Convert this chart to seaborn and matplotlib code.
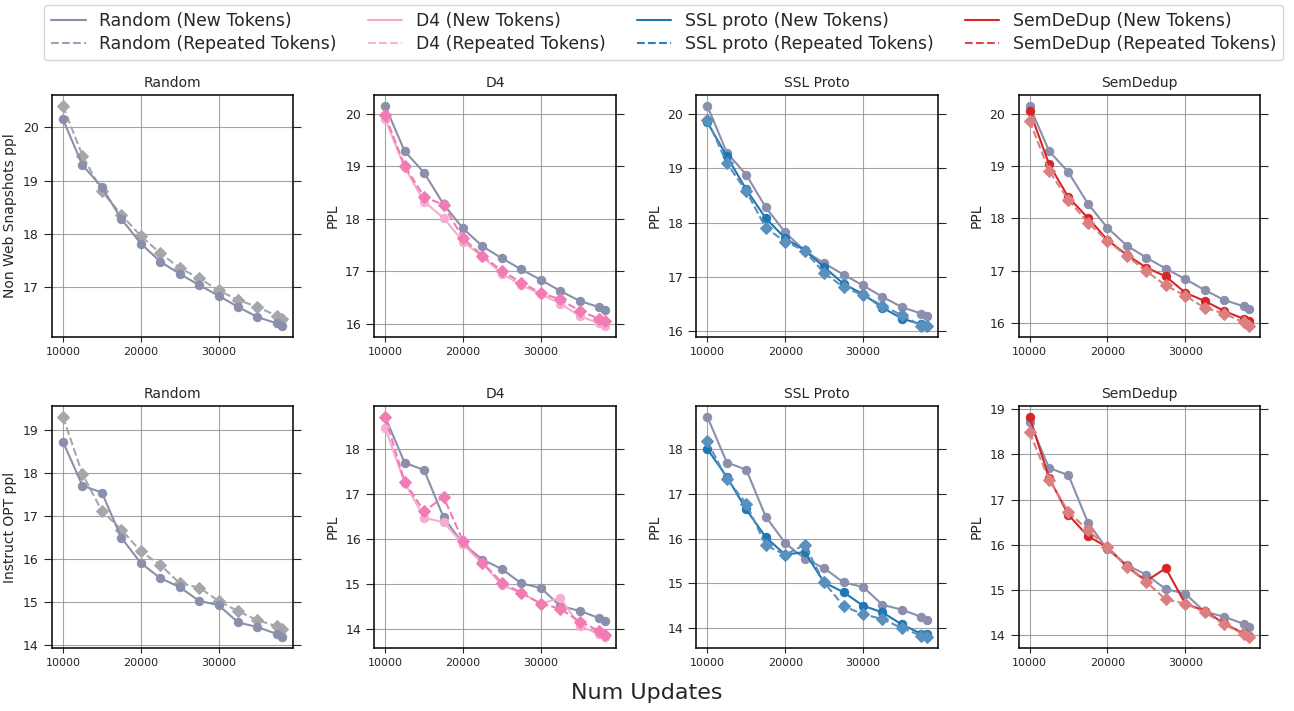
import numpy as np
import pandas as pd
import matplotlib
matplotlib.use("Agg")
import matplotlib.pyplot as plt
from matplotlib.lines import Line2D
from matplotlib.ticker import MultipleLocator
import seaborn as sns

steps = [10000, 12500, 15000, 17500, 20000, 22500, 25000, 27500, 30000, 32500, 35000, 37500, 38200]

# ---- Top row: Non Web Snapshots ppl ----
web_random_new = [20.15, 19.29, 18.88, 18.28, 17.82, 17.48, 17.25, 17.04, 16.84, 16.63, 16.44, 16.32, 16.27]
web_random_rep = [20.40, 19.47, 18.80, 18.36, 17.96, 17.64, 17.36, 17.17, 16.94, 16.76, 16.63, 16.46, 16.40]
web_d4_new = [19.90, 18.98, 18.33, 18.02, 17.57, 17.28, 16.96, 16.74, 16.57, 16.39, 16.15, 16.01, 15.96]
web_d4_rep = [19.97, 19.01, 18.42, 18.27, 17.63, 17.30, 17.01, 16.79, 16.59, 16.47, 16.25, 16.10, 16.06]
web_ssl_new = [19.85, 19.22, 18.61, 18.08, 17.71, 17.49, 17.18, 16.87, 16.68, 16.43, 16.23, 16.12, 16.09]
web_ssl_rep = [19.90, 19.09, 18.58, 17.90, 17.65, 17.48, 17.07, 16.81, 16.66, 16.47, 16.29, 16.10, 16.10]
web_sem_new = [20.06, 19.04, 18.40, 18.01, 17.59, 17.30, 17.06, 16.89, 16.58, 16.42, 16.23, 16.08, 16.04]
web_sem_rep = [19.87, 18.91, 18.35, 17.92, 17.57, 17.28, 16.99, 16.72, 16.52, 16.29, 16.18, 16.01, 15.94]

# ---- Bottom row: Instruct OPT ppl ----
opt_random_new = [18.72, 17.70, 17.54, 16.49, 15.90, 15.55, 15.34, 15.02, 14.92, 14.52, 14.41, 14.25, 14.18]
opt_random_rep = [19.30, 17.97, 17.11, 16.68, 16.17, 15.86, 15.43, 15.33, 15.02, 14.78, 14.57, 14.43, 14.37]
opt_d4_new = [18.47, 17.26, 16.48, 16.38, 15.89, 15.47, 14.98, 14.81, 14.57, 14.70, 14.08, 13.89, 13.83]
opt_d4_rep = [18.71, 17.28, 16.62, 16.94, 15.96, 15.48, 15.04, 14.81, 14.57, 14.46, 14.17, 13.97, 13.87]
opt_ssl_new = [18.00, 17.38, 16.65, 16.03, 15.64, 15.70, 15.02, 14.80, 14.50, 14.35, 14.08, 13.87, 13.86]
opt_ssl_rep = [18.17, 17.33, 16.78, 15.85, 15.64, 15.86, 15.02, 14.49, 14.31, 14.20, 14.00, 13.83, 13.80]
opt_sem_new = [18.83, 17.48, 16.66, 16.19, 15.95, 15.52, 15.20, 15.48, 14.70, 14.54, 14.26, 14.04, 13.99]
opt_sem_rep = [18.49, 17.44, 16.73, 16.32, 15.95, 15.51, 15.18, 14.79, 14.70, 14.51, 14.24, 14.02, 13.96]

titles = ["Random", "D4", "SSL Proto", "SemDedup"]
row_ylabels = ["Non Web Snapshots ppl", "Instruct OPT ppl"]
legend_names = ["Random", "D4", "SSL proto", "SemDeDup"]

c_rand_new = "#8a8fab"
c_rand_rep = "#a6a6ad"
col_new = {"D4": "#f5aecd", "SSL": "#1f77b4", "Sem": "#d62728"}
col_rep = {"D4": "#f27ab5", "SSL": "#5a90bd", "Sem": "#dc7f80"}
leg_new = ["#8a8fab", "#f7a9cb", "#1f77b4", "#d62728"]
leg_rep = ["#9da1b8", "#f7b3d0", "#2a7fbf", "#e0474a"]

rows = [
    dict(rand_new=web_random_new, rand_rep=web_random_rep,
         D4=(web_d4_new, web_d4_rep), SSL=(web_ssl_new, web_ssl_rep), Sem=(web_sem_new, web_sem_rep)),
    dict(rand_new=opt_random_new, rand_rep=opt_random_rep,
         D4=(opt_d4_new, opt_d4_rep), SSL=(opt_ssl_new, opt_ssl_rep), Sem=(opt_sem_new, opt_sem_rep)),
]

sns.set_style("ticks")
plt.rcParams["font.family"] = ["DejaVu Sans"]

fig, axes = plt.subplots(2, 4, figsize=(12.94, 7.11), dpi=100)
fig.subplots_adjust(left=0.0402, right=0.9737, top=0.8664, bottom=0.0886, wspace=0.335, hspace=0.284)


def draw(ax, y, color, marker, ls, ms):
    df = pd.DataFrame({"step": steps, "ppl": y})
    sns.lineplot(data=df, x="step", y="ppl", ax=ax, color=color, marker=marker,
                 linestyle=ls, markersize=ms, markeredgecolor=color, linewidth=1.5, legend=False)


for r, row in enumerate(rows):
    for c, key in enumerate([None, "D4", "SSL", "Sem"]):
        ax = axes[r, c]
        if key is None:
            draw(ax, row["rand_rep"], c_rand_rep, "D", "--", 6)
            draw(ax, row["rand_new"], c_rand_new, "o", "-", 6)
        else:
            draw(ax, row["rand_new"], c_rand_new, "o", "-", 6)
            new, rep = row[key]
            draw(ax, new, col_new[key], "o", "-", 6)
            draw(ax, rep, col_rep[key], "D", "--", 6)
        ax.set_title(titles[c], fontsize=10)
        ax.set_xlabel("")
        ax.set_ylabel(row_ylabels[r] if c == 0 else "PPL", fontsize=10)
        ax.set_xticks([10000, 20000, 30000])
        ax.yaxis.set_major_locator(MultipleLocator(1))
        ax.grid(True, color="#8c8c8c", linewidth=0.8, alpha=0.8)
        ax.set_axisbelow(True)
        ax.tick_params(axis="x", labelsize=8)
        ax.tick_params(axis="y", labelsize=9, right=True, length=6)
        for s in ax.spines.values():
            s.set_color("black")
            s.set_linewidth(1.1)

handles, labels = [], []
for i, nm in enumerate(legend_names):
    handles.append(Line2D([0], [0], color=leg_new[i], lw=1.5, ls="-"))
    labels.append(f"{nm} (New Tokens)")
    handles.append(Line2D([0], [0], color=leg_rep[i], lw=1.5, ls="--"))
    labels.append(f"{nm} (Repeated Tokens)")

fig.legend(handles, labels, ncol=4, loc="upper center", bbox_to_anchor=(0.513, 1.005),
           fontsize=12.4, frameon=True, handlelength=2.0, columnspacing=1.8,
           borderpad=0.4, labelspacing=0.3)

fig.text(0.5, 0.025, "Num Updates", ha="center", va="center", fontsize=16)

fig.savefig("out.png", dpi=100)
